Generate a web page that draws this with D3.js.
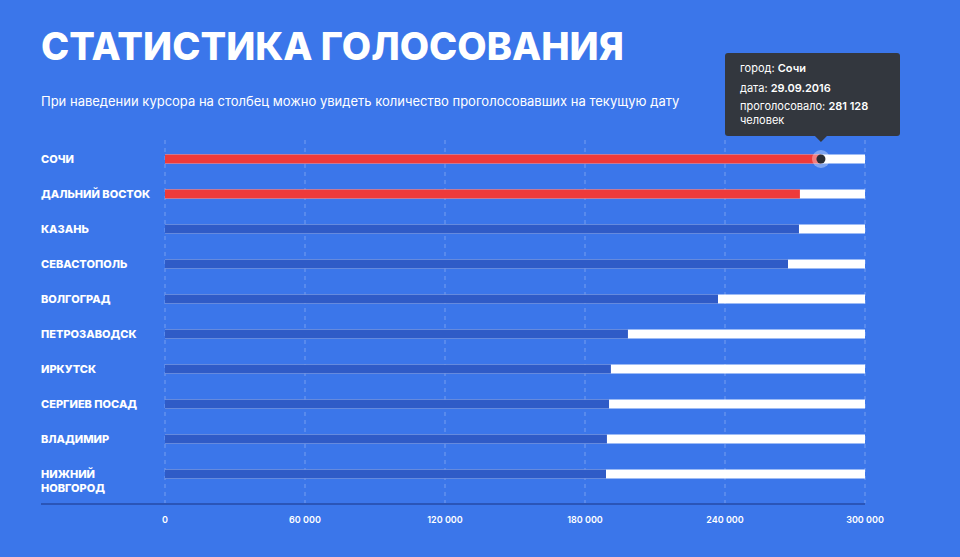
<!DOCTYPE html><html><head><meta charset="utf-8"><script src="https://cdn.jsdelivr.net/npm/d3@7"></script>
<style>body{margin:0;background:#3b76ea;}svg{display:block;font-family:Inter,"Open Sans",sans-serif;}</style></head><body>
<svg id="c" width="960" height="557"></svg>
<script>
const cities=["СОЧИ","ДАЛЬНИЙ ВОСТОК","КАЗАНЬ","СЕВАСТОПОЛЬ","ВОЛГОГРАД","ПЕТРОЗАВОДСК","ИРКУТСК","СЕРГИЕВ ПОСАД","ВЛАДИМИР","НИЖНИЙ НОВГОРОД"];
const votes=[281128,272100,271700,267000,237000,198400,191100,190300,189400,189000];
const highlighted=[true,true,false,false,false,false,false,false,false,false];
const ticks=[0,60000,120000,180000,240000,300000];
const svg=d3.select("#c");
svg.append("rect").attr("width",960).attr("height",557).attr("fill","#3b76ea");
svg.append("text").attr("x",41).attr("y",60).attr("fill","#fff").attr("font-size",38).attr("font-weight",800).text("СТАТИСТИКА ГОЛОСОВАНИЯ");
svg.append("text").attr("x",41).attr("y",106).attr("fill","#fff").attr("font-size",13).text("При наведении курсора на столбец можно увидеть количество проголосовавших на текущую дату");
const x=d3.scaleLinear().domain([0,300000]).range([165,865]);
const y=d3.scaleBand().domain(cities).range([141.5,491.5]);
const g=svg.append("g");
ticks.forEach(t=>g.append("line").attr("x1",x(t)).attr("x2",x(t)).attr("y1",140).attr("y2",503).attr("stroke","#ffffff").attr("stroke-opacity",0.3).attr("stroke-dasharray","4,4"));
cities.forEach((c,i)=>{
  const cy=y(c)+y.bandwidth()/2;
  g.append("rect").attr("x",x(0)).attr("y",cy-4.5).attr("width",x(300000)-x(0)).attr("height",9).attr("fill","#fff");
  g.append("rect").attr("x",x(0)).attr("y",cy-4.5).attr("width",x(votes[i])-x(0)).attr("height",9).attr("fill",highlighted[i]?"#ee3a3a":"#2f5bc7");
  const words=c==="НИЖНИЙ НОВГОРОД"?["НИЖНИЙ","НОВГОРОД"]:[c];
  words.forEach((w,k)=>svg.append("text").attr("x",41).attr("y",cy+4+k*14).attr("fill","#fff").attr("font-size",11).attr("font-weight",800).text(w));
});
svg.append("line").attr("x1",41).attr("x2",865).attr("y1",504).attr("y2",504).attr("stroke","#2a55b8").attr("stroke-width",2);
ticks.forEach(t=>svg.append("text").attr("x",x(t)).attr("y",523).attr("text-anchor","middle").attr("fill","#fff").attr("font-size",9).attr("font-weight",600).text(d3.format(",")(t).replace(/,/g," ")));
// tooltip
const cy0=y(cities[0])+y.bandwidth()/2, px=x(votes[0]);
svg.append("circle").attr("cx",px).attr("cy",cy0).attr("r",9).attr("fill","#fff").attr("fill-opacity",0.35);
svg.append("circle").attr("cx",px).attr("cy",cy0).attr("r",4.5).attr("fill","#2b2f36");
const tt=svg.append("g");
tt.append("rect").attr("x",725).attr("y",53).attr("width",175).attr("height",83).attr("rx",3).attr("fill","#33373e");
tt.append("path").attr("d",`M${px-6},136 L${px},142 L${px+6},136Z`).attr("fill","#33373e");
const tl=[["город: ","Сочи",72],["дата: ","29.09.2016",92],["проголосовало: ","281 128",110]];
tl.forEach(([a,b,yy])=>{const t=tt.append("text").attr("x",740).attr("y",yy).attr("fill","#fff").attr("font-size",11);t.append("tspan").text(a);t.append("tspan").attr("font-weight",600).text(b);});
tt.append("text").attr("x",740).attr("y",124).attr("fill","#fff").attr("font-size",11).text("человек");
</script></body></html>
